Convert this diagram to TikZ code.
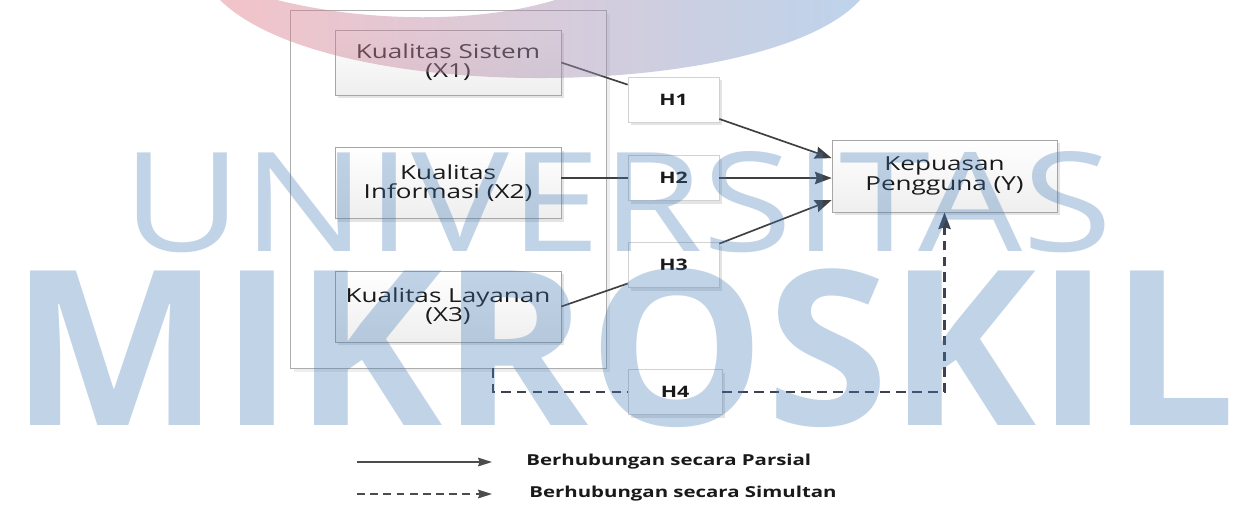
\documentclass[tikz,border=0pt]{standalone}
\usepackage{fontspec}
\setmainfont[FakeStretch=1.35]{Open Sans}
\newfontfamily\wmfont{Open Sans}
\usetikzlibrary{calc, positioning, arrows.meta, shadows}

\definecolor{linegray}{RGB}{64,64,64}
\definecolor{dashgray}{RGB}{60,66,80}
\definecolor{wmblue}{RGB}{67,122,182}
\definecolor{wmpink}{RGB}{228,124,137}
\definecolor{wmsky}{RGB}{111,159,211}

\begin{document}
\begin{tikzpicture}
    [x=0.02cm, y=-0.02cm,
    every node/.style={inner sep=2pt, text=black!90},
    >={Stealth[length=9.5pt,width=7pt,inset=1pt]},
    boxshadow/.style={drop shadow={shadow xshift=0.06cm, shadow yshift=-0.06cm, fill=gray!70, opacity=0.3}},
    varbox/.style={draw=gray!70, top color=white, bottom color=gray!13, minimum width=4.52cm,
        minimum height=1.42cm, align=center, font=\fontsize{11}{11}\selectfont, boxshadow},
    hypbox/.style={draw=gray!35, fill=white, minimum width=1.82cm, minimum height=0.9cm,
        font=\fontsize{9}{10}\selectfont\bfseries, boxshadow},
    parsial/.style={draw=linegray, line width=0.95pt},
    simultan/.style={draw=dashgray, line width=1.2pt, dash pattern=on 5.5pt off 3.5pt},
    legtext/.style={anchor=west, inner sep=0pt, font=\fontsize{8.6}{9}\selectfont\bfseries},
    watermark/.style={anchor=base west, inner sep=0pt, text=wmblue, text opacity=0.33}]

    \fill[white] (0,0) rectangle (1236,505);
    \useasboundingbox (0,0) rectangle (1236,505);

    % variabel bebas
    \node[draw=gray!65, fill=white, minimum width=6.32cm, minimum height=7.16cm,
        drop shadow={shadow xshift=0.08cm, shadow yshift=-0.08cm, fill=gray!50, opacity=0.25}] (frame) at (448,189) {};
    \node[varbox, minimum height=1.3cm] (x1) at (448,62.5) {Kualitas Sistem\\(X1)};
    \node[varbox] (x2) at (448,183) {Kualitas\\Informasi (X2)};
    \node[varbox] (x3) at (448,306.5) {Kualitas Layanan\\(X3)};

    % hipotesis
    \node[hypbox] (h1) at (673.5,99.5) {H1};
    \node[hypbox] (h2) at (673.5,178) {H2};
    \node[hypbox] (h3) at (673.5,265) {H3};
    \node[hypbox, minimum width=1.88cm] (h4) at (675,392) {H4};

    \node[varbox, minimum width=4.5cm, minimum height=1.44cm] (y) at (944.5,176) {Kepuasan\\Pengguna (Y)};

    \draw[parsial] (x1.east) -- (h1.162);
    \draw[parsial] (h2.west -| x2.east) -- (h2.west);
    \draw[parsial] (x3.east) -- (h3.202);
    \draw[parsial,->] (h1.-23) -- (y.171);
    \draw[parsial,->] (h2.east) -- (h2.east -| y.west);
    \draw[parsial,->] (h3.25) -- (y.192);

    \coordinate (h4in) at (493,392);
    \draw[simultan] (frame.south -| h4in) -- (h4in) -- (h4.west);
    \draw[simultan,->] (h4.east) -| (y.south);

    % keterangan
    \coordinate (pa) at (357,462);
    \coordinate (pb) at (492,462);
    \coordinate (sa) at (357,494);
    \coordinate (sb) at (492,494);
    \node[legtext] (lpar) at (526,462) {Berhubungan secara Parsial};
    \node[legtext] (lsim) at (529,494) {Berhubungan secara Simultan};
    \draw[draw=gray!60!black, line width=0.9pt, -{Stealth[length=8pt,width=5pt,inset=1pt]}] (pa) -- (pb);
    \draw[draw=gray!60!black, line width=0.8pt, dash pattern=on 4.5pt off 3pt,
        -{Stealth[length=8pt,width=5pt,inset=1pt]}] (sa) -- (sb);

    % watermark
    \shade[left color=wmpink, right color=wmsky, fill opacity=0.45]
        (220,0) .. controls (330,108) and (770,100) .. (860,0) -- (555,0)
        .. controls (480,23) and (370,23) .. (277,0) -- cycle;
    \node[watermark] (wmuni) at (122,251) {\resizebox{19.8cm}{2.0cm}{\wmfont UNIVERSITAS}};
    \node[watermark] (wmmik) at (10,425) {\resizebox{24.5cm}{3.14cm}{\wmfont\bfseries MIKROSKIL}};
\end{tikzpicture}
\end{document}
